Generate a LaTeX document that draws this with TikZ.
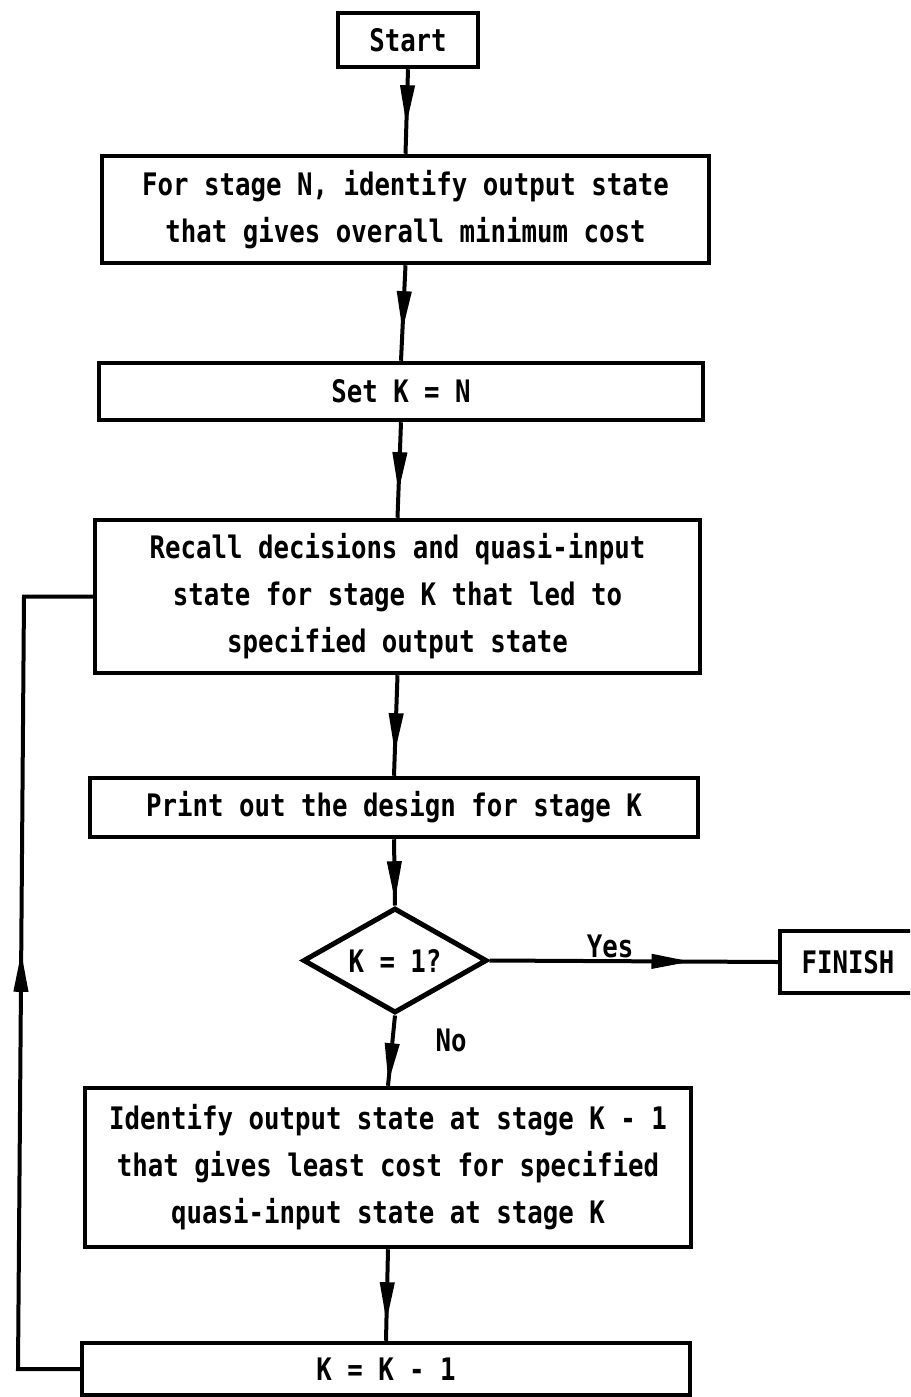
\documentclass[tikz,border=0pt]{standalone}
\usepackage{fontspec}
\newfontfamily\flowfont{DejaVu Sans Mono}[FakeStretch=0.83]
\usetikzlibrary{shapes.geometric,arrows.meta,decorations.markings}

\begin{document}
\begin{tikzpicture}[x=1pt,y=-1pt,
  every node/.style={font=\flowfont\bfseries\fontsize{31}{47}\selectfont},
  procbox/.style={draw, rectangle, line width=4.5pt, inner sep=0pt, align=center},
  decbox/.style={draw, diamond, aspect=1.75, line width=5pt, inner sep=0pt},
  tag/.style={inner sep=0pt},
  flowline/.style={line width=4pt},
  tipat/.style={postaction={decorate, decoration={markings,
      mark=at position #1 with {\arrow{Triangle[length=40pt,width=14pt]}}}}}
]
% page and white ground
\useasboundingbox (0,0) rectangle (910,1397);
\fill[white] (0,0) rectangle (910,1397);
\clip (0,0) rectangle (910,1397);

% process steps
\node[procbox, minimum width=140pt, minimum height=54pt] (start) at (408,40) {Start};
\node[procbox, minimum width=607pt, minimum height=107pt] (ident) at (405.5,209.5)
  {For stage N, identify output state\\that gives overall minimum cost};
\node[procbox, minimum width=604pt, minimum height=57pt] (setk) at (401,391.5) {Set K = N};
\node[procbox, minimum width=605pt, minimum height=153pt] (recall) at (397.5,596.5)
  {Recall decisions and quasi-input\\state for stage K that led to\\specified output state};
\node[procbox, minimum width=608pt, minimum height=59pt] (print) at (394,807.5)
  {Print out the design for stage K};
\node[decbox, minimum width=184pt, minimum height=105pt] (test) at (395,960.5) {K = 1?};
\node[procbox, minimum width=136pt, minimum height=62pt] (finish) at (848,962) {FINISH};
\node[procbox, minimum width=606pt, minimum height=159pt] (prev) at (388,1167.5)
  {Identify output state at stage K - 1\\that gives least cost for specified\\quasi-input state at stage K};
\node[procbox, minimum width=608pt, minimum height=52pt] (dec) at (386,1369) {K = K - 1};

% branch labels
\node[tag] (yes) at (610,946) {Yes};
\node[tag] (no) at (451,1040) {No};

% return path corners
\coordinate (lb) at (18,1369);
\coordinate (lt) at (24,596.5);

% connectors with arrowheads part way along
\draw[flowline, tipat=56pt] (start.south) -- (ident.north);
\draw[flowline, tipat=66pt] (ident.south) -- (setk.north);
\draw[flowline, tipat=70pt] (setk.south) -- (recall.north);
\draw[flowline, tipat=78pt] (recall.south) -- (print.north);
\draw[flowline, tipat=62pt] (print.south) -- (test.north);
\draw[flowline, tipat=202pt] (test.east) -- (finish.west);
\draw[flowline, tipat=68pt] (test.south) -- (prev.north);
\draw[flowline, tipat=73pt] (prev.south) -- (dec.north);
\draw[flowline, tipat=479pt] (dec.west) -- (lb) -- (lt) -- (recall.west);
\end{tikzpicture}
\end{document}
